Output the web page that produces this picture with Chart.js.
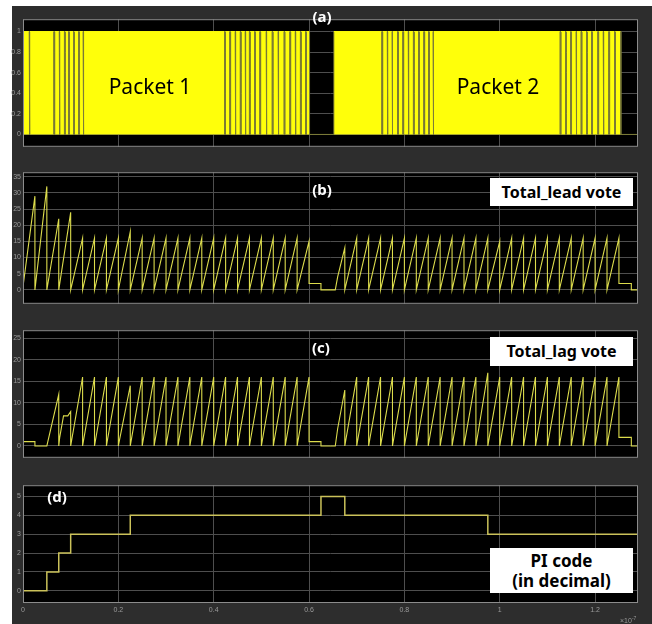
<!DOCTYPE html>
<html>
<head>
<meta charset="utf-8">
<script src="https://cdn.jsdelivr.net/npm/chart.js@4.4.1/dist/chart.umd.min.js"></script>
<style>
  body { margin: 0; background: #fff; width: 652px; height: 624px; overflow: hidden; position: relative; font-family: "Noto Sans", sans-serif; }
  #frame { position: absolute; left: 12px; top: 6px; width: 640px; height: 618px; background: #2d2d2d; }
  canvas { position: absolute; left: 0; }
  .tag { position: absolute; color: #fff; font-weight: bold; font-size: 15px; line-height: 1; transform: translate(-50%, -50%); }
  .packet { position: absolute; color: #000; font-size: 21px; line-height: 1; transform: translate(-50%, -50%); }
  .box { position: absolute; background: #fff; color: #000; font-weight: bold; font-size: 16px; text-align: center; display: flex; flex-direction: column; justify-content: center; line-height: 1.15; }
  .scale { position: absolute; color: #9a9a9a; font-family: "Liberation Sans", sans-serif; font-size: 7px; }
</style>
</head>
<body>
<div id="frame"></div>
<canvas id="chartA" width="652" height="140" style="top:13px"></canvas>
<canvas id="chartB" width="652" height="144" style="top:166px"></canvas>
<canvas id="chartC" width="652" height="140" style="top:324px"></canvas>
<canvas id="chartD" width="652" height="140" style="top:479px"></canvas>

<div class="tag" style="left:322px;top:16px">(a)</div>
<div class="packet" style="left:150px;top:86px">Packet 1</div>
<div class="packet" style="left:498px;top:86px">Packet 2</div>
<div class="tag" style="left:322px;top:189px">(b)</div>
<div class="box" style="left:490px;top:178px;width:143px;height:28px">Total_lead vote</div>
<div class="tag" style="left:321px;top:347px">(c)</div>
<div class="box" style="left:490px;top:337px;width:143px;height:29px">Total_lag vote</div>
<div class="tag" style="left:57px;top:496px">(d)</div>
<div class="box" style="left:490px;top:548px;width:143px;height:45px;font-size:17px">PI code<br>(in decimal)</div>
<div class="scale" style="left:620px;top:615px">&times;10<sup style="font-size:5px">-7</sup></div>

<script>
/*
DATA (time in units of 1e-7 s)
*/
const xTicks = [0, 0.2, 0.4, 0.6, 0.8, 1, 1.2];

// (a) data stream: short dips to 0 inside each packet
const packet1Dips = [0.013, 0.065, 0.076, 0.087, 0.096, 0.106, 0.117, 0.126,
  0.423, 0.434, 0.445, 0.456, 0.466, 0.475, 0.486, 0.497, 0.510, 0.523, 0.535, 0.548, 0.560, 0.571, 0.582, 0.593];
const packet2Dips = [0.753, 0.764, 0.774, 0.786, 0.797, 0.808, 0.819, 0.830, 0.841, 0.851, 0.860,
  1.127, 1.138, 1.149, 1.160, 1.171, 1.182, 1.193, 1.206, 1.217, 1.229, 1.241];
const dipWidth = 0.0016;
const idleStart = 0.601;
const idleEnd = 0.652;
const streamEnd = 1.254;
const streamTicks = [0, 0.2, 0.4, 0.6, 0.8, 1];

// vote counters reset at these times
const packet1Resets = [0.025, 0.05, 0.075, 0.1, 0.125, 0.15, 0.175, 0.2, 0.225, 0.25, 0.275, 0.3,
  0.325, 0.35, 0.375, 0.4, 0.425, 0.45, 0.475, 0.5, 0.525, 0.55, 0.575, 0.6];
const packet2Resets = [0.675, 0.7, 0.725, 0.75, 0.775, 0.8, 0.825, 0.85, 0.875, 0.9, 0.925, 0.95,
  0.975, 1.0, 1.025, 1.05, 1.075, 1.1, 1.125, 1.15, 1.175, 1.2, 1.225, 1.25];

// (b) Total_lead vote
const leadHead = [[0, 1]];
const leadPeaks1 = [29, 32, 22, 24, 16, 16, 16, 16, 18, 16, 16, 16, 16, 16, 16, 16, 16, 16, 16, 16, 16, 16, 16, 15];
const leadIdle = [[0.6, 2], [0.625, 2], [0.625, 0], [0.655, 0], [0.66, 4]];
const leadPeaks2 = [13, 16, 16, 16, 16, 16, 16, 16, 16, 16, 16, 16, 16, 15, 16, 16, 16, 16, 16, 16, 16, 16, 16, 16];
const leadTail = [[1.25, 2], [1.276, 2], [1.276, 0], [1.29, 0]];
const leadTicks = [0, 5, 10, 15, 20, 25, 30, 35];

// (c) Total_lag vote
const lagHead = [[0, 1], [0.025, 1], [0.025, 0], [0.05, 0], [0.075, 12], [0.075, 0], [0.077, 2],
  [0.085, 7], [0.094, 7], [0.1, 8], [0.1, 0]];
const lagPeaks1 = [16, 16, 16, 16, 14, 16, 16, 16, 16, 16, 16, 16, 16, 16, 16, 16, 16, 16, 16, 16];
const lagIdle = [[0.6, 1], [0.625, 1], [0.625, 0], [0.655, 0], [0.66, 4]];
const lagPeaks2 = [13, 16, 16, 16, 16, 16, 16, 16, 16, 16, 16, 16, 17, 16, 16, 16, 16, 16, 16, 16, 16, 16, 16, 16];
const lagTail = [[1.25, 2], [1.276, 2], [1.276, 0], [1.29, 0]];
const lagTicks = [0, 5, 10, 15, 20, 25];

// (d) PI code
const piTimes = [0, 0.05, 0.075, 0.1, 0.225, 0.625, 0.675, 0.975, 1.29];
const piValues = [0, 1, 2, 3, 4, 5, 4, 3, 3];
const piTicks = [0, 1, 2, 3, 4, 5];

/*
BUILD POINT LISTS
*/
function pairs(list) {
  return list.map(p => ({ x: p[0], y: p[1] }));
}

function sawtooth(resets, peaks, lastDrop) {
  const pts = [];
  const off = resets.length - peaks.length;
  peaks.forEach((peak, i) => {
    const t = resets[off + i];
    pts.push({ x: t, y: peak });
    if (i < peaks.length - 1 || lastDrop) pts.push({ x: t, y: 0 });
  });
  return pts;
}

const streamPoints = [{ x: 0, y: 1 }];
for (const d of packet1Dips) {
  streamPoints.push({ x: d, y: 1 }, { x: d, y: 0 }, { x: d + dipWidth, y: 0 }, { x: d + dipWidth, y: 1 });
}
streamPoints.push({ x: idleStart, y: 1 }, { x: idleStart, y: 0 }, { x: idleEnd, y: 0 }, { x: idleEnd, y: 1 });
for (const d of packet2Dips) {
  streamPoints.push({ x: d, y: 1 }, { x: d, y: 0 }, { x: d + dipWidth, y: 0 }, { x: d + dipWidth, y: 1 });
}
streamPoints.push({ x: streamEnd, y: 1 }, { x: streamEnd, y: 0 }, { x: 1.29, y: 0 });

const leadPoints = pairs(leadHead)
  .concat(sawtooth(packet1Resets, leadPeaks1, false))
  .concat(pairs(leadIdle))
  .concat(sawtooth(packet2Resets, leadPeaks2, false))
  .concat(pairs(leadTail));

const lagPoints = pairs(lagHead)
  .concat(sawtooth(packet1Resets, lagPeaks1, false))
  .concat(pairs(lagIdle))
  .concat(sawtooth(packet2Resets, lagPeaks2, false))
  .concat(pairs(lagTail));

const piPoints = piTimes.map((t, i) => ({ x: t, y: piValues[i] }));

/*
SCOPE LOOK
*/
Chart.defaults.animation = false;
Chart.defaults.responsive = false;
Chart.defaults.plugins.legend.display = false;
Chart.defaults.plugins.tooltip.enabled = false;

const scopeBox = {
  id: 'scopeBox',
  beforeDraw(chart) {
    const a = chart.chartArea;
    chart.ctx.save();
    chart.ctx.fillStyle = '#000';
    chart.ctx.fillRect(a.left, a.top, a.right - a.left, a.bottom - a.top);
    chart.ctx.restore();
  },
  afterDraw(chart) {
    const a = chart.chartArea;
    chart.ctx.save();
    chart.ctx.strokeStyle = '#8c8c8c';
    chart.ctx.lineWidth = 1;
    chart.ctx.strokeRect(a.left + 0.5, a.top + 0.5, a.right - a.left - 1, a.bottom - a.top - 1);
    chart.ctx.restore();
  }
};

const tickFont = { family: 'Liberation Sans', size: 7 };
const plainNumber = v => String(Math.round(v * 100) / 100);

function scopeOptions(yMin, yMax, yTicks, showX) {
  return {
    layout: { padding: { left: 0, right: 14, top: 0, bottom: 0 } },
    scales: {
      x: {
        type: 'linear', min: 0, max: 1.29,
        afterBuildTicks: s => { s.ticks = xTicks.map(v => ({ value: v })); },
        afterFit: s => { s.height = showX ? 16 : 0; },
        grid: { color: '#4e4e4e', drawTicks: false },
        border: { display: false },
        ticks: { display: showX, color: '#9a9a9a', font: tickFont, padding: 3, maxRotation: 0, autoSkip: false, callback: plainNumber }
      },
      y: {
        min: yMin, max: yMax,
        afterBuildTicks: s => { s.ticks = yTicks.map(v => ({ value: v })); },
        afterFit: s => { s.width = 23; },
        grid: { color: '#4e4e4e', drawTicks: false },
        border: { display: false },
        ticks: { color: '#9a9a9a', font: tickFont, padding: 2, callback: plainNumber }
      }
    }
  };
}

/*
(a) DATA STREAM
*/
const streamChart = new Chart(document.getElementById('chartA'), {
  type: 'line',
  data: {
    datasets: [{
      data: streamPoints,
      borderWidth: 1,
      pointRadius: 0,
      fill: 'origin',
      backgroundColor: '#ffff0a',
      segment: {
        borderColor: ctx => (ctx.p0.parsed.y === 1 && ctx.p1.parsed.y === 1) ? '#ffff0a' : '#7d7d38'
      }
    }]
  },
  options: scopeOptions(-0.12, 1.12, streamTicks, false),
  plugins: [scopeBox]
});

/*
(b) TOTAL LEAD VOTE
*/
const leadChart = new Chart(document.getElementById('chartB'), {
  type: 'line',
  data: { datasets: [{ data: leadPoints, borderColor: '#dcdc4c', borderWidth: 1.1, pointRadius: 0 }] },
  options: scopeOptions(-4.3, 36.4, leadTicks, false),
  plugins: [scopeBox]
});

/*
(c) TOTAL LAG VOTE
*/
const lagChart = new Chart(document.getElementById('chartC'), {
  type: 'line',
  data: { datasets: [{ data: lagPoints, borderColor: '#dcdc4c', borderWidth: 1.1, pointRadius: 0 }] },
  options: scopeOptions(-2.75, 26.9, lagTicks, false),
  plugins: [scopeBox]
});

/*
(d) PI CODE
*/
const piChart = new Chart(document.getElementById('chartD'), {
  type: 'line',
  data: { datasets: [{ data: piPoints, stepped: true, borderColor: '#cbc25a', borderWidth: 1.5, pointRadius: 0 }] },
  options: scopeOptions(-0.65, 5.6, piTicks, true),
  plugins: [scopeBox]
});
</script>
</body>
</html>
